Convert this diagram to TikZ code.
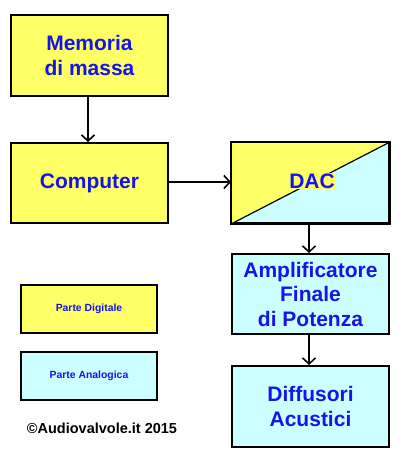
\documentclass[tikz,border=0pt]{standalone}
\usepackage{fontspec}
\setmainfont{Liberation Sans}
\usepackage{tikz}
\usetikzlibrary{arrows.meta}

\definecolor{digitale}{HTML}{FFFF66}
\definecolor{analogica}{HTML}{CCFFFF}
\definecolor{testo}{RGB}{20,20,235}

\tikzset{
  blocco/.style={draw=black, line width=2pt, minimum width=157pt, minimum height=80pt,
    align=center, text=testo, font=\fontsize{21}{24.5}\selectfont\bfseries},
  legenda/.style={draw=black, line width=2pt, minimum width=136pt, minimum height=48pt,
    text=testo, font=\fontsize{10.4}{12}\selectfont\bfseries},
  freccia/.style={line width=1.6pt, -{Straight Barb[length=6pt,width=13pt]}}
}

\begin{document}
\begin{tikzpicture}[x=1pt, y=-1pt]
\useasboundingbox (0,0) rectangle (400,461);
% blocchi digitali
\node[blocco, fill=digitale, minimum height=81pt] (memoria) at (89.5,55.5) {Memoria\\di massa};
\node[blocco, fill=digitale] (computer) at (89.5,183) {Computer};
% DAC, meta digitale e meta analogico
\node[blocco, fill=analogica] (dac) at (310.5,183) {};
\fill[digitale] (dac.south west) -- (dac.north west) -- (dac.north east) -- cycle;
\draw[line width=1.2pt] (dac.south west) -- (dac.north east);
\draw[line width=2pt] (dac.south west) rectangle (dac.north east);
\node[fill=digitale, inner sep=1pt, text=testo, font=\fontsize{21}{24.5}\selectfont\bfseries] (daclabel) at (312,181) {DAC};
% blocchi analogici
\node[blocco, fill=analogica] (ampli) at (310.5,294) {Amplificatore\\Finale\\di Potenza};
\node[blocco, fill=analogica, minimum height=81pt] (diffusori) at (310.5,406.5) {Diffusori\\Acustici};
% legenda
\node[legenda, fill=digitale] (leg1) at (89,309) {Parte Digitale};
\node[legenda, fill=analogica] (leg2) at (89,376) {Parte Analogica};
\node[font=\fontsize{14.5}{16}\selectfont\bfseries] (copy) at (102,428) {©Audiovalvole.it 2015};
% collegamenti
\draw[freccia] (memoria.south -| 88,0) -- (computer.north -| 88,0);
\draw[freccia] (computer.east |- 0,182) -- (dac.west |- 0,182);
\draw[freccia] (dac.south -| 309,0) -- (ampli.north -| 309,0);
\draw[freccia] (ampli.south -| 309,0) -- (diffusori.north -| 309,0);
\end{tikzpicture}
\end{document}
